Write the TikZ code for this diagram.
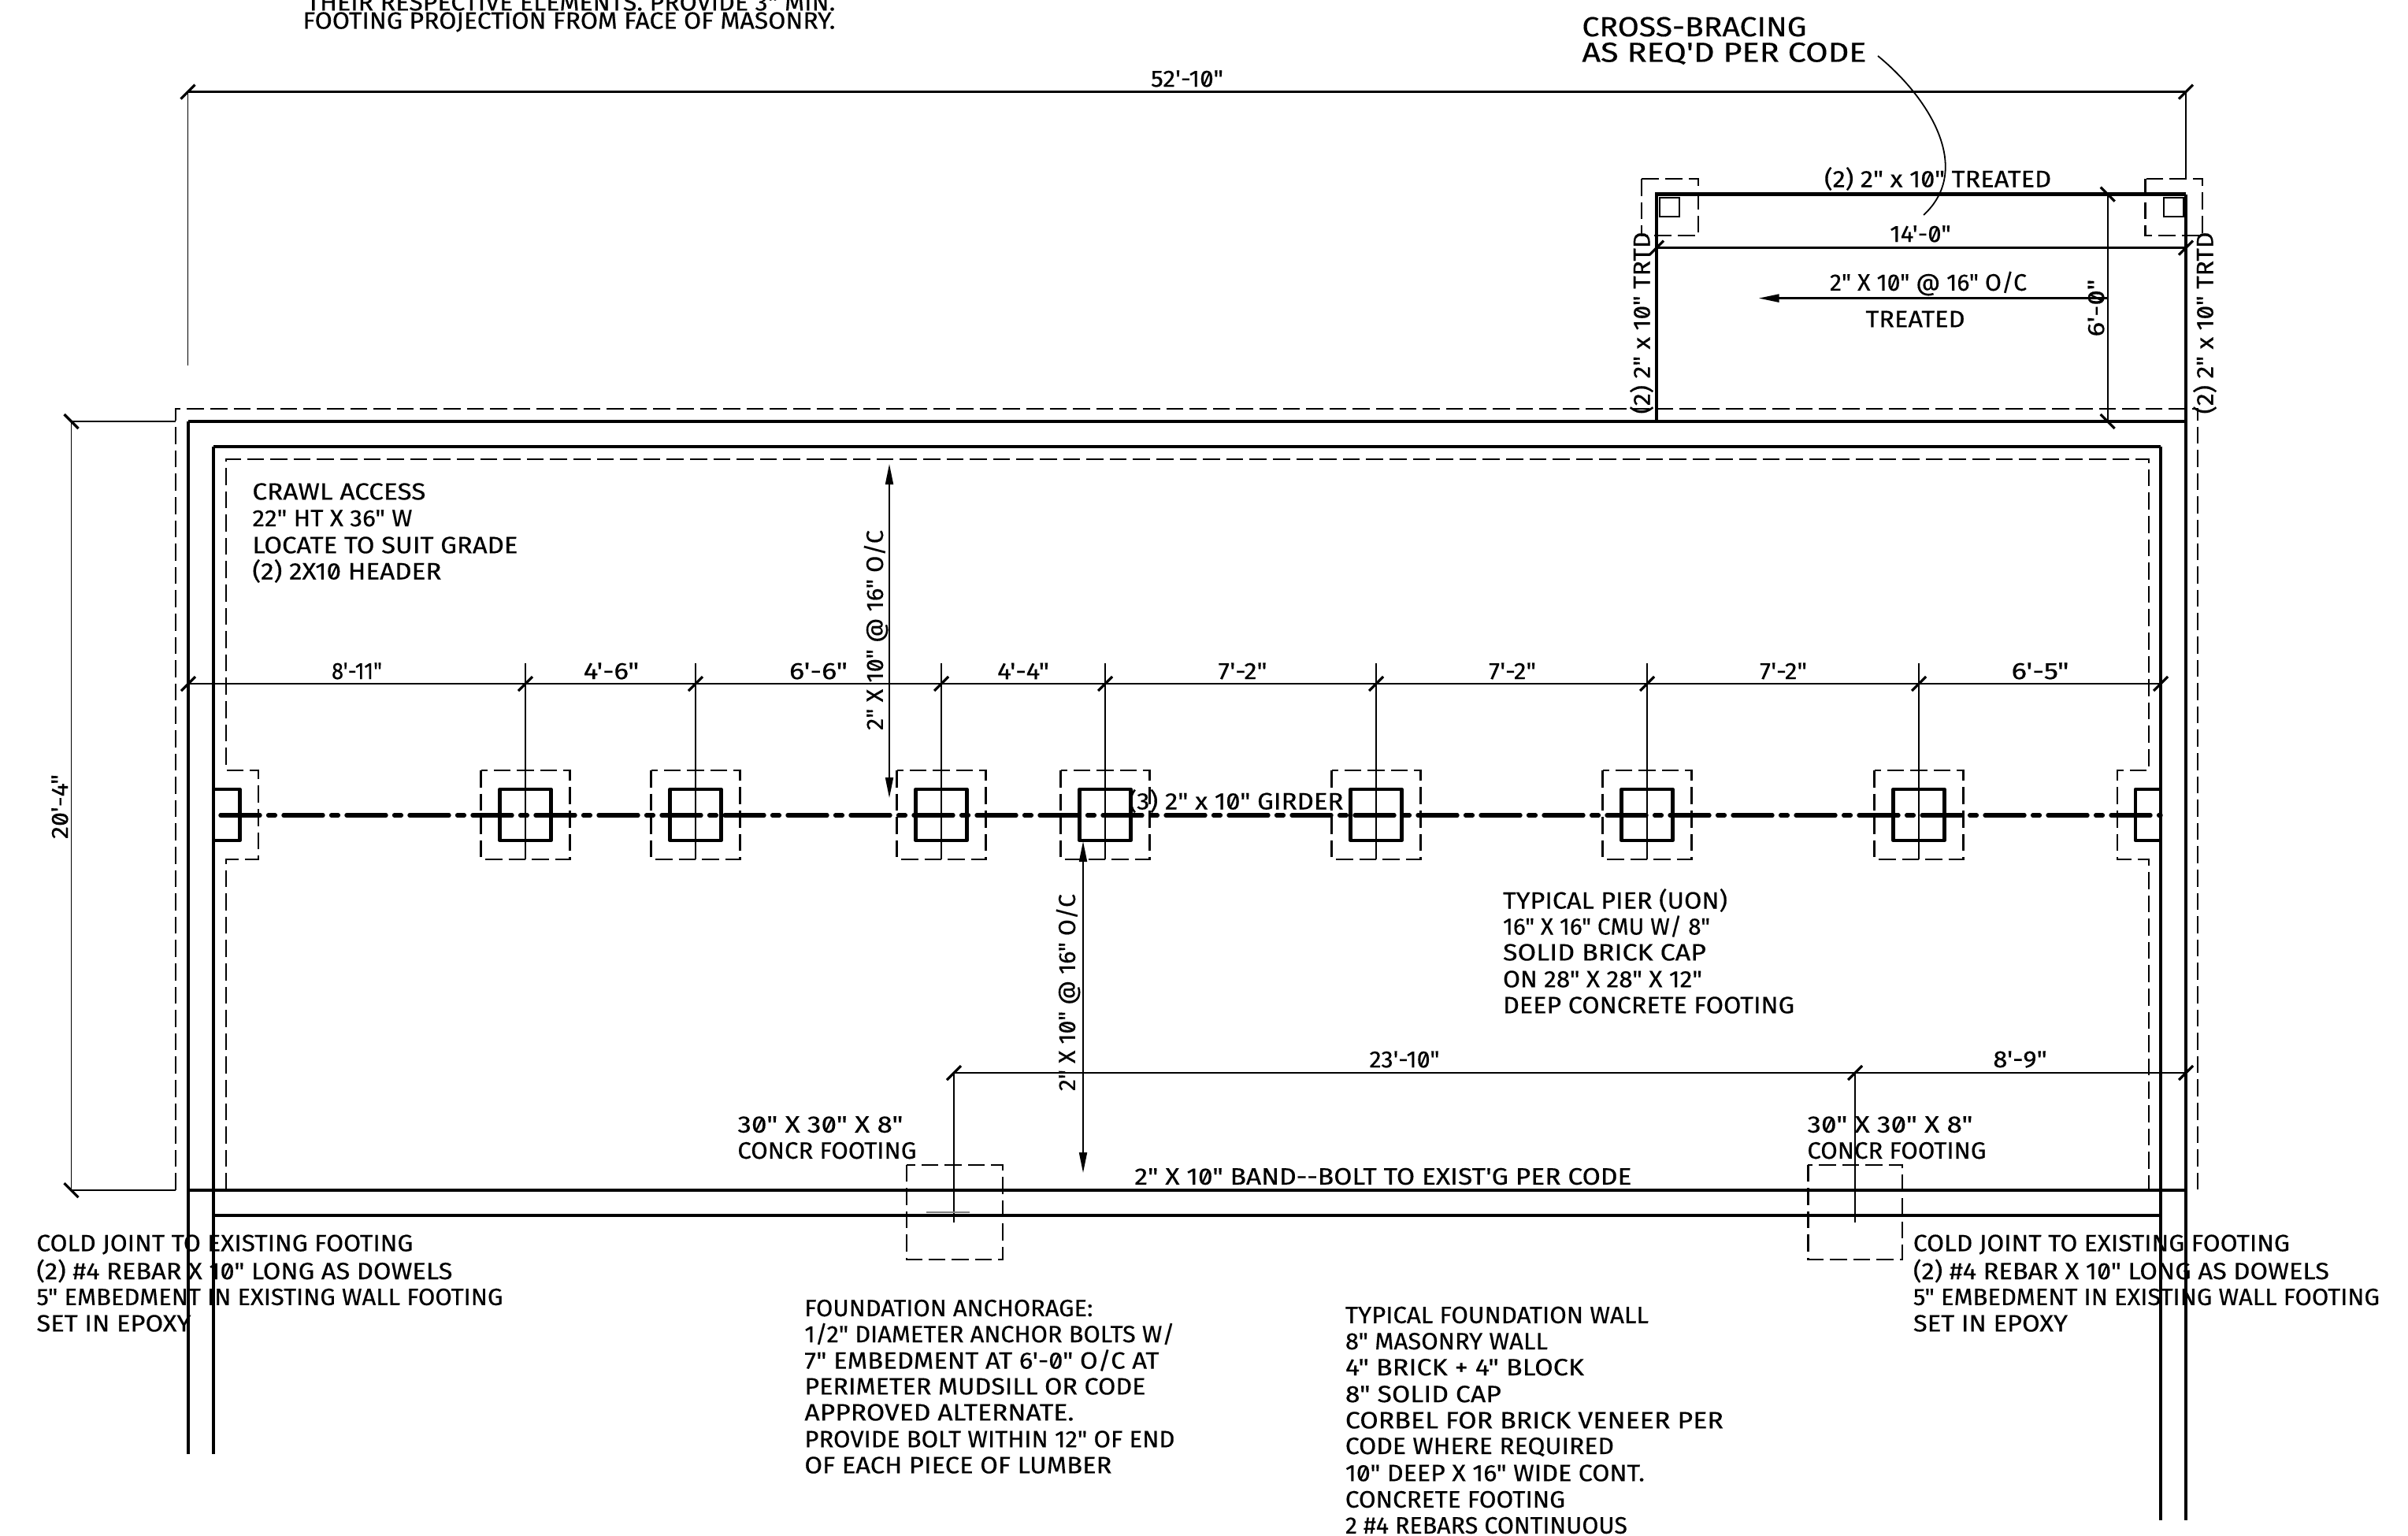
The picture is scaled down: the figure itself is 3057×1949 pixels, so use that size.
\documentclass[tikz,border=0pt]{standalone}
\usepackage{fontspec}
\usepackage{graphicx}
\usetikzlibrary{arrows.meta}
\newfontfamily\cadfont[RawFeature=+zero,FakeBold=0.35]{Fira Sans}
\newlength\pxu \setlength\pxu{0.5pt}
\newcommand\W[2]{\resizebox{#1\pxu}{\height}{#2}}
\tikzset{
  x=0.5pt,y=-0.5pt,
  wall/.style={line width=2.3pt,line cap=butt},
  dashedline/.style={line width=1.1pt,dash pattern=on 10.8pt off 4pt},
  dim/.style={line width=1.2pt},
  ext/.style={line width=0.9pt},
  slash/.style={line width=1.6pt},
  girder/.style={line width=2.7pt,line cap=round,dash pattern=on 25pt off 5.3pt on 4.4pt off 5.3pt,dash phase=35.5pt},
  pier/.style={line width=2.3pt,line join=round},
  smallsq/.style={line width=1pt},
  lbl/.style={inner sep=0pt,font=\cadfont\fontsize{15}{15}\selectfont,text=black},
  note/.style={lbl,anchor=west},
  bigl/.style={lbl,font=\cadfont\fontsize{17.5}{17.5}\selectfont,anchor=west},
  arr/.style={line width=0.9pt,-{Triangle[length=13pt,width=5pt]}},
  arrb/.style={line width=0.9pt,{Triangle[length=13pt,width=5pt]}-{Triangle[length=13pt,width=5pt]}},
}
\newcommand\tickf[2]{\draw[slash] (#1-9,#2+9) -- (#1+9,#2-9);}
\newcommand\tickb[2]{\draw[slash] (#1-9,#2-9) -- (#1+9,#2+9);}
\begin{document}
\begin{tikzpicture}
\clip (0,0) rectangle (3057,1949);
\fill[white] (0,0) rectangle (3057,1949);
% top clipped note
\node[note] (n1a) at (389,3) {\W{671}{THEIR RESPECTIVE ELEMENTS.  PROVIDE 3" MIN.}};
\node[note] (n1b) at (384,28) {\W{676}{FOOTING PROJECTION FROM FACE OF MASONRY.}};
% cross-bracing
\node[bigl] (cb1) at (2008,34) {\W{285}{CROSS-BRACING}};
\node[bigl] (cb2) at (2008,68) {\W{361}{AS REQ'D PER CODE}};
\draw[ext] (2384,71) .. controls (2450,125) and (2505,215) .. (2442,273);
% overall dim
\draw[dim] (238.5,116.6) -- (2775,116.6);
\tickf{238.5}{116.6}\tickf{2775}{116.6}
\draw[ext] (238.5,116.6) -- (238.5,464);
\draw[ext] (2775,116.6) -- (2775,227);
\node[lbl] (d52) at (1507,100) {\W{92}{52'-10"}};
% outer dashed
\draw[dashedline] (223,1511) -- (223,519) -- (2790,519) -- (2790,1512);
% inner dashed
\draw[dashedline] (287,1511) -- (287,1091) -- (327.7,1091) -- (327.7,978) -- (287,978) -- (287,583) -- (2728,583) -- (2728,978) -- (2687.6,978) -- (2687.6,1091) -- (2728,1091) -- (2728,1511);
% walls
\draw[wall] (238.5,535) -- (2775,535);
\draw[wall] (271,567) -- (2743,567);
\draw[wall] (239,1511) -- (2775,1511);
\draw[wall] (271,1543) -- (2743,1543);
\draw[wall] (239,535) -- (239,1846);
\draw[wall] (271,567) -- (271,1846);
\draw[wall] (2743,567) -- (2743,1930);
\draw[wall] (2775,246.6) -- (2775,1930);
% addition
\draw[wall] (2103,535) -- (2103,246.6) -- (2775,246.6);
\draw[dashedline] (2083.6,227) rectangle (2156,299);
\draw[dashedline] (2723.5,227) rectangle (2796,299);
\draw[smallsq] (2106.5,250.6) rectangle (2131.5,274.7);
\draw[smallsq] (2747,250.6) rectangle (2772,274.7);
\node[lbl] (t1) at (2460,227) {\W{288}{(2) 2" x 10" TREATED}};
\draw[dim] (2103,314.6) -- (2775,314.6);
\tickf{2103}{314.6}\tickf{2775}{314.6}
\node[lbl] (t2) at (2438,297) {\W{77.5}{14'-0"}};
\node[lbl] (t3) at (2448,360) {\W{250}{2" X 10" @ 16" O/C}};
\draw[arr,line width=1.2pt] (2675,378.6) -- (2232.6,378.6);
\node[lbl] (t4) at (2431.5,405) {\W{126}{TREATED}};
\draw[ext] (2675.7,246.6) -- (2675.7,535);
\tickb{2675.7}{246.6}\tickb{2675.7}{535}
\node[lbl,rotate=90] (t5) at (2661,391) {\W{73}{6'-0"}};
\node[lbl,rotate=90] (t6) at (2084,410) {\W{231}{(2) 2" x 10" TRTD}};
\node[lbl,rotate=90] (t7) at (2799,410) {\W{231}{(2) 2" x 10" TRTD}};
% piers
\foreach \x in {667,883,1195,1403,1747,2091,2436}{
  \draw[dashedline] (\x-56.5,978) rectangle (\x+56.5,1091);
  \draw[pier] (\x-32.5,1002) rectangle (\x+32.5,1067);
  \draw[ext] (\x,842) -- (\x,1091);
  \tickf{\x}{868}
}
\draw[pier] (271,1002) -- (304.5,1002) -- (304.5,1067) -- (271,1067);
\draw[pier] (2743,1002) -- (2711,1002) -- (2711,1067) -- (2743,1067);
\draw[girder] (271,1035) -- (2743,1035);
% pier dim
\draw[dim] (239,868) -- (2743,868);
\tickf{239}{868}\tickf{2743}{868}
\foreach \cx/\lab/\lw/\nm in {453/8'-11"/64/a,776/4'-6"/70.5/b,1039/6'-6"/74/c,1299/4'-4"/66/d,1577.5/7'-2"/62/e,1920/7'-2"/60/f,2264/7'-2"/60/g,2590/6'-5"/73/h}{
  \node[lbl] (dd\nm) at (\cx,852) {\W{\lw}{\lab}};
}
% joist arrows
\draw[arrb] (1129,589) -- (1129,1013);
\node[lbl,rotate=90] (j1) at (1112,800) {\W{254}{2" X 10" @ 16" O/C}};
\draw[arrb] (1375,1068) -- (1375,1489);
\node[lbl,rotate=90] (j2) at (1356,1260) {\W{250}{2" X 10" @ 16" O/C}};
\node[note] (g1) at (1432,1017) {\W{273}{(3) 2" x 10" GIRDER}};
% left dim
\draw[ext] (90.5,535) -- (90.5,1511);
\draw[ext] (90.5,535) -- (223,535);
\draw[ext] (90.5,1511) -- (223,1511);
\tickb{90.5}{535}\tickb{90.5}{1511}
\node[lbl,rotate=90] (d20) at (76,1024) {\W{82}{20'-4"}};
% lower dim
\draw[dim] (1211,1362) -- (2775,1362);
\tickf{1211}{1362}\tickf{2355}{1362}\tickf{2775}{1362}
\draw[ext] (1211,1362) -- (1211,1552);
\draw[ext] (2355,1362) -- (2355,1552);
\node[lbl] (d23) at (1783,1345) {\W{89}{23'-10"}};
\node[lbl] (d8) at (2564.5,1345) {\W{68.5}{8'-9"}};
\draw[dashedline] (1151,1478.6) rectangle (1272.7,1599);
\draw[dashedline] (2295.4,1478.6) rectangle (2414.6,1599);
\draw[line width=1pt,gray] (1176,1539) -- (1231,1539);
% notes
\node[note] (f1) at (936,1427.6) {\W{210}{30" X 30" X 8"}};
\node[note] (f2) at (936,1460.6) {\W{227}{CONCR FOOTING}};
\node[note] (f3) at (2294,1427.6) {\W{210}{30" X 30" X 8"}};
\node[note] (f4) at (2294,1460.6) {\W{227}{CONCR FOOTING}};
\node[note] (band) at (1440,1493.5) {\W{631}{2" X 10" BAND--BOLT TO EXIST'G PER CODE}};
\node[note] (cl1) at (46,1580) {\W{478}{COLD JOINT TO EXISTING FOOTING}};
\node[note] (cl2) at (46,1613.5) {\W{528}{(2) \#4 REBAR X 10" LONG AS DOWELS}};
\node[note] (cl3) at (46,1646.5) {\W{592}{5" EMBEDMENT IN EXISTING WALL FOOTING}};
\node[note] (cl4) at (46,1680) {\W{196}{SET IN EPOXY}};
\node[note] (cr1) at (2428.5,1580) {\W{478}{COLD JOINT TO EXISTING FOOTING}};
\node[note] (cr2) at (2428.5,1613.5) {\W{528}{(2) \#4 REBAR X 10" LONG AS DOWELS}};
\node[note] (cr3) at (2428.5,1646.5) {\W{592}{5" EMBEDMENT IN EXISTING WALL FOOTING}};
\node[note] (cr4) at (2428.5,1680) {\W{196}{SET IN EPOXY}};
\node[note] (a1) at (1021,1660.6) {\W{366}{FOUNDATION ANCHORAGE:}};
\node[note] (a2) at (1021,1693.5) {\W{470}{1/2" DIAMETER ANCHOR BOLTS W/}};
\node[note] (a3) at (1021,1727) {\W{450}{7" EMBEDMENT AT 6'-0" O/C AT}};
\node[note] (a4) at (1021,1760) {\W{433}{PERIMETER MUDSILL OR CODE}};
\node[note] (a5) at (1021,1793) {\W{342}{APPROVED ALTERNATE.}};
\node[note] (a6) at (1021,1827) {\W{470}{PROVIDE BOLT WITHIN 12" OF END}};
\node[note] (a7) at (1021,1860) {\W{390}{OF EACH PIECE OF LUMBER}};
\node[note] (w1) at (1707.5,1669.4) {\W{385}{TYPICAL FOUNDATION WALL}};
\node[note] (w2) at (1707.5,1702.7) {\W{257}{8" MASONRY WALL}};
\node[note] (w3) at (1707.5,1735.7) {\W{303}{4" BRICK + 4" BLOCK}};
\node[note] (w4) at (1707.5,1769.8) {\W{198}{8" SOLID CAP}};
\node[note] (w5) at (1707.5,1803) {\W{480}{CORBEL FOR BRICK VENEER PER}};
\node[note] (w6) at (1707.5,1837) {\W{341}{CODE WHERE REQUIRED}};
\node[note] (w7) at (1707.5,1870) {\W{380}{10" DEEP X 16" WIDE CONT.}};
\node[note] (w8) at (1707.5,1903.5) {\W{279}{CONCRETE FOOTING}};
\node[note] (w9) at (1707.5,1936.5) {\W{358}{2 \#4 REBARS CONTINUOUS}};
\node[note] (p1) at (1907.6,1143) {\W{285}{TYPICAL PIER (UON)}};
\node[note] (p2) at (1907.6,1176) {\W{263}{16" X 16" CMU W/ 8"}};
\node[note] (p3) at (1907.6,1209) {\W{258}{SOLID BRICK CAP}};
\node[note] (p4) at (1907.6,1243) {\W{253}{ON 28" X 28" X 12"}};
\node[note] (p5) at (1907.6,1276) {\W{370}{DEEP CONCRETE FOOTING}};
\node[note] (c1) at (320,624) {\W{220}{CRAWL ACCESS}};
\node[note] (c2) at (320,658) {\W{203}{22" HT X 36" W}};
\node[note] (c3) at (320,692) {\W{337}{LOCATE TO SUIT GRADE}};
\node[note] (c4) at (320,725) {\W{240}{(2) 2X10 HEADER}};
\end{tikzpicture}
\end{document}
